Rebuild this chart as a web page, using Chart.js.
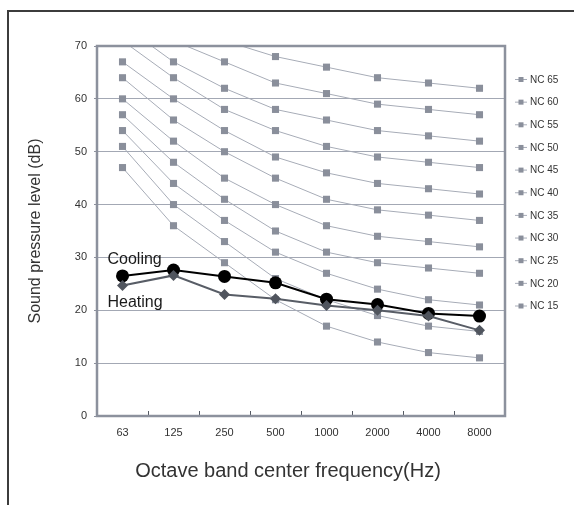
<!DOCTYPE html>
<html>
<head>
<meta charset="utf-8">
<script src="https://cdn.jsdelivr.net/npm/chart.js@4.4.1/dist/chart.umd.min.js"></script>
<style>
    html, body { margin: 0; padding: 0; background: #fff; }
    #wrap { position: relative; width: 574px; height: 505px; overflow: hidden; }
    #frame { position: absolute; left: 7px; top: 10px; right: -4px; bottom: -4px;
             border-left: 2px solid #3c3c3c; border-top: 2px solid #3c3c3c; }
    #graficaNC { position: absolute; left: 0; top: 0; }
</style>
</head>
<body>
<div id="wrap">
    <div id="frame"></div>
    <canvas id="graficaNC" width="574" height="505"></canvas>
</div>
<script>
// Datos
const bandas = ['63', '125', '250', '500', '1000', '2000', '4000', '8000'];
const ticksY = [0, 10, 20, 30, 40, 50, 60, 70];

const ncNombres = ['NC 65', 'NC 60', 'NC 55', 'NC 50', 'NC 45', 'NC 40', 'NC 35', 'NC 30', 'NC 25', 'NC 20', 'NC 15'];
const nc65 = [80, 75, 71, 68, 66, 64, 63, 62];
const nc60 = [77, 71, 67, 63, 61, 59, 58, 57];
const nc55 = [74, 67, 62, 58, 56, 54, 53, 52];
const nc50 = [71, 64, 58, 54, 51, 49, 48, 47];
const nc45 = [67, 60, 54, 49, 46, 44, 43, 42];
const nc40 = [64, 56, 50, 45, 41, 39, 38, 37];
const nc35 = [60, 52, 45, 40, 36, 34, 33, 32];
const nc30 = [57, 48, 41, 35, 31, 29, 28, 27];
const nc25 = [54, 44, 37, 31, 27, 24, 22, 21];
const nc20 = [51, 40, 33, 26, 22, 19, 17, 16];
const nc15 = [47, 36, 29, 22, 17, 14, 12, 11];
const ncValores = [nc65, nc60, nc55, nc50, nc45, nc40, nc35, nc30, nc25, nc20, nc15];

const cooling = [26.5, 27.6, 26.4, 25.2, 22.1, 21.1, 19.4, 18.9];
const heating = [24.7, 26.6, 23.0, 22.2, 20.9, 20.0, 18.9, 16.2];

(function() {
    const fuente = "'Liberation Sans', Arial, Helvetica, sans-serif";
    Chart.defaults.font.family = fuente;

    const grisLinea = '#a7acb7';
    const grisMarca = '#8a8f9b';

    const ncDatasets = ncNombres.map((nombre, i) => ({
        label: nombre,
        data: ncValores[i],
        borderColor: grisLinea,
        borderWidth: 1,
        pointStyle: 'rect',
        pointRadius: 5,
        pointBorderWidth: 0,
        pointBackgroundColor: grisMarca,
        order: 2
    }));

    // Marco del área, leyenda NC, etiquetas y título X
    const extras = {
        id: 'extras',
        afterDatasetsDraw(chart) {
            const { ctx, chartArea: a } = chart;
            ctx.save();
            ctx.strokeStyle = '#8c919d';
            ctx.lineWidth = 2.5;
            ctx.strokeRect(a.left, a.top, a.right - a.left, a.bottom - a.top);
            ctx.restore();
        },
        afterDraw(chart) {
            const { ctx, chartArea: a } = chart;
            const y = chart.scales.y;
            ctx.save();

            // leyenda
            ctx.font = '10px ' + fuente;
            ctx.textBaseline = 'middle';
            ctx.textAlign = 'left';
            chart.data.datasets.filter(d => d.label.startsWith('NC')).forEach((d, i) => {
                const yy = 79.5 + i * 22.65;
                ctx.strokeStyle = grisLinea;
                ctx.lineWidth = 1;
                ctx.beginPath();
                ctx.moveTo(515, yy);
                ctx.lineTo(527, yy);
                ctx.stroke();
                ctx.fillStyle = grisMarca;
                ctx.fillRect(518.5, yy - 2.5, 5, 5);
                ctx.fillStyle = '#333';
                ctx.fillText(d.label, 530, yy + 0.5);
            });

            // etiquetas de las curvas
            ctx.font = '16px ' + fuente;
            ctx.textBaseline = 'alphabetic';
            ctx.fillStyle = '#1a1a1a';
            ctx.fillText('Cooling', a.left + 10.5, y.getPixelForValue(28.7));
            ctx.fillText('Heating', a.left + 10.5, y.getPixelForValue(20.6));

            // título eje X
            ctx.font = '20px ' + fuente;
            ctx.textAlign = 'center';
            ctx.textBaseline = 'middle';
            ctx.fillStyle = '#333';
            ctx.fillText('Octave band center frequency(Hz)', 288, 471);
            ctx.restore();
        }
    };

    const ctx = document.getElementById('graficaNC');
    new Chart(ctx, {
        type: 'line',
        data: {
            labels: bandas,
            datasets: [
                {
                    label: 'Heating',
                    data: heating,
                    borderColor: '#585d66',
                    borderWidth: 2,
                    pointStyle: 'rectRot',
                    pointRadius: 5.5,
                    pointBorderWidth: 0,
                    pointBackgroundColor: '#50555e',
                    order: 0
                },
                {
                    label: 'Cooling',
                    data: cooling,
                    borderColor: '#000',
                    borderWidth: 2,
                    pointStyle: 'circle',
                    pointRadius: 6.5,
                    pointBorderWidth: 0,
                    pointBackgroundColor: '#000',
                    order: 1
                },
                ...ncDatasets
            ]
        },
        options: {
            responsive: false,
            animation: false,
            events: [],
            layout: { padding: { left: 0, top: 46, right: 69, bottom: 0 } },
            plugins: {
                legend: { display: false },
                tooltip: { enabled: false }
            },
            scales: {
                x: {
                    offset: true,
                    grid: {
                        display: true,
                        offset: true,
                        drawOnChartArea: false,
                        drawTicks: true,
                        tickLength: -5,
                        tickColor: '#555a63',
                        tickWidth: 1
                    },
                    border: { display: false },
                    ticks: { padding: 15, color: '#333', font: { size: 11 }, maxRotation: 0 },
                    afterFit: s => { s.height = 89; }
                },
                y: {
                    min: 0,
                    max: 70,
                    afterBuildTicks: s => { s.ticks = ticksY.map(v => ({ value: v })); },
                    grid: { color: '#a3a8b4', lineWidth: 1, tickLength: 3, tickColor: '#8c919d' },
                    border: { display: false },
                    ticks: { padding: 7, color: '#333', font: { size: 11 } },
                    title: {
                        display: true,
                        text: 'Sound pressure level (dB)',
                        color: '#333',
                        font: { size: 16 },
                        padding: { top: 26, bottom: 0 }
                    },
                    afterFit: s => { s.width = 97; }
                }
            }
        },
        plugins: [extras]
    });
})();
</script>
</body>
</html>
